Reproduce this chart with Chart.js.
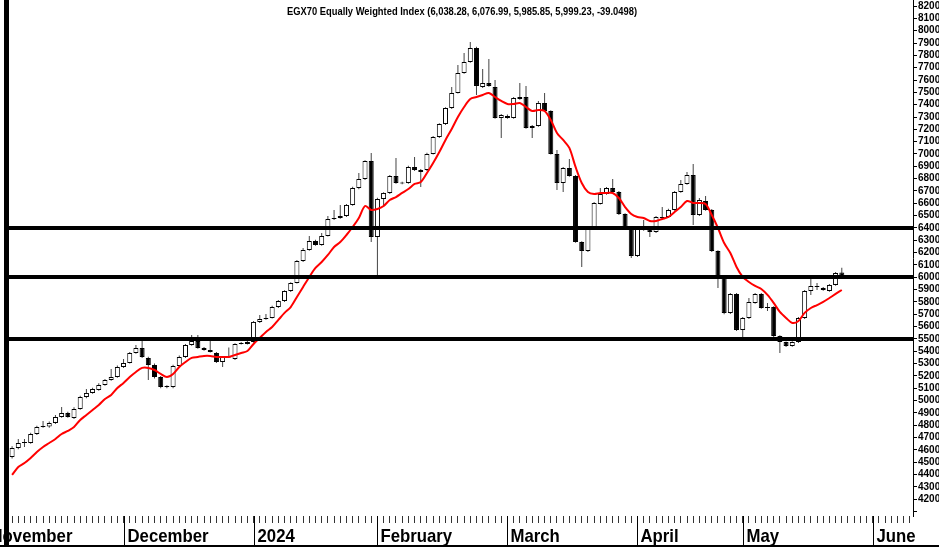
<!DOCTYPE html>
<html lang="en">
<head>
  <meta charset="UTF-8" />
  <title>EGX70 Equally Weighted Index</title>
  <script src="https://cdn.jsdelivr.net/npm/chart.js"></script>
  <style>
    html, body { margin: 0; padding: 0; background: #fff; }
    canvas { display: block; }
  </style>
</head>
<body>
  <canvas id="egx" width="939" height="547"></canvas>

  <script>
    // daily candles, Nov 2023 .. May 2024 (trading days)
    const opens = [4543,4616,4656,4656,4729,4786,4790,4819,4867,4900,4859,4932,5029,5062,5086,5127,5167,5191,5273,5305,
      5386,5427,5346,5289,5191,5118,5110,5281,5354,5451,5483,5427,5411,5386,5313,5350,5338,5459,5459,5475,
      5638,5662,5670,5759,5808,5889,5954,6132,6222,6295,6262,6335,6473,6481,6497,6587,6724,6797,6943,6327,
      6635,6684,6822,6760,6765,6895,6854,6870,7000,7138,7243,7373,7495,7657,7746,7860,7543,7576,7543,7292,
      7308,7292,7446,7462,7211,7227,7414,7349,7000,6765,6887,6822,6286,6213,6392,6595,6676,6724,6692,6513,
      6408,6173,6400,6400,6367,6481,6489,6546,6692,6757,6830,6505,6619,6546,6213,6011,5711,5865,5573,5670,
      5792,5865,5759,5759,5524,5475,5443,5475,5670,5889,5922,5914,5889,5938,6038.28];
    const highs = [4630,4689,4689,4740,4795,4835,4830,4883,4948,4910,4945,5040,5094,5105,5140,5175,5256,5285,5338,5395,
      5451,5491,5355,5300,5200,5125,5290,5365,5460,5532,5532,5435,5483,5395,5360,5430,5465,5475,5485,5645,
      5694,5702,5770,5815,5895,5960,6140,6238,6335,6305,6359,6497,6546,6587,6595,6735,6846,6950,7008,6645,
      6690,6830,6968,6775,6905,6976,6878,7010,7145,7250,7380,7543,7722,7819,7908,7870,7689,7770,7600,7325,
      7320,7462,7576,7552,7235,7430,7495,7355,7032,6895,6960,6830,6292,6400,6610,6724,6732,6797,6700,6520,
      6415,6415,6465,6410,6497,6570,6555,6700,6789,6854,6919,6643,6660,6553,6220,6018,5872,5872,5677,5832,
      5872,5872,5792,5765,5530,5480,5482,5677,5896,5994,5954,5922,5945,6043,6076.99];
    const lows = [4530,4605,4624,4650,4720,4780,4780,4810,4860,4860,4850,4925,5020,5055,5080,5120,5160,5185,5265,5300,
      5380,5345,5167,5180,5100,5100,5100,5275,5345,5445,5420,5405,5390,5305,5273,5345,5330,5455,5455,5470,
      5630,5655,5665,5750,5800,5880,5950,6125,6215,6255,6255,6330,6465,6475,6490,6580,6715,6790,6286,6011,
      6570,6675,6758,6755,6758,6862,6732,6862,6995,7130,7235,7365,7490,7650,7740,7479,7535,7545,7285,7130,
      7285,7285,7440,7205,7130,7220,7340,6995,6708,6692,6815,6280,6084,6205,6385,6590,6670,6685,6505,6400,
      6157,6165,6378,6327,6360,6475,6480,6540,6685,6750,6424,6498,6540,6205,5913,5700,5703,5565,5516,5662,
      5785,5745,5727,5515,5386,5435,5436,5468,5662,5857,5897,5890,5882,5932,5985.85];
    const closes = [4616,4656,4664,4729,4786,4794,4819,4867,4900,4867,4932,5029,5062,5094,5127,5167,5191,5273,5305,5386,
      5427,5354,5289,5191,5110,5110,5281,5354,5451,5483,5427,5411,5394,5313,5354,5362,5459,5467,5475,5638,
      5662,5670,5759,5808,5889,5954,6132,6222,6295,6262,6335,6473,6481,6497,6587,6724,6797,6943,6327,6635,
      6684,6822,6765,6768,6895,6870,6870,7000,7138,7243,7373,7495,7657,7746,7860,7552,7576,7552,7292,7316,
      7292,7454,7462,7211,7227,7414,7349,7000,6765,6887,6822,6286,6213,6392,6603,6676,6724,6692,6513,6408,
      6173,6408,6384,6367,6489,6489,6546,6692,6757,6830,6505,6627,6546,6213,6011,5711,5865,5573,5670,5800,
      5865,5751,5751,5524,5475,5443,5475,5670,5889,5930,5930,5897,5938,6035,5999.23];
    // red moving average
    const ma = [4397,4462,4494,4535,4583,4624,4656,4689,4729,4754,4786,4843,4883,4924,4964,5013,5046,5102,5143,5191,
      5232,5265,5265,5248,5216,5191,5216,5273,5313,5346,5354,5362,5362,5354,5354,5354,5370,5386,5402,5459,
      5508,5557,5597,5654,5711,5759,5840,5922,6003,6076,6124,6181,6246,6286,6343,6408,6481,6578,6546,6554,
      6578,6627,6651,6684,6716,6757,6773,6846,6927,7016,7114,7203,7300,7381,7446,7462,7479,7495,7462,7430,
      7406,7406,7414,7381,7349,7357,7349,7276,7170,7114,7049,6895,6765,6692,6676,6684,6684,6684,6643,6570,
      6513,6489,6481,6457,6457,6473,6489,6530,6570,6619,6603,6603,6595,6505,6400,6278,6197,6084,6003,5962,
      5930,5905,5857,5792,5719,5670,5630,5646,5711,5751,5775,5800,5832,5865,5897];

    const levels = [6400, 6000, 5500];
    const slotCount = 146;
    const monthNames = ['November', 'December', '2024', 'February', 'March', 'April', 'May', 'June'];
    const monthStarts = [-4, 18, 39, 59, 80, 101, 118, 139];

    const title = 'EGX70 Equally Weighted Index (6,038.28, 6,076.99, 5,985.85, 5,999.23, -39.0498)';
    const sans = '"Liberation Sans", Arial, sans-serif';

    const slots = Array.from({ length: slotCount }, (_, i) => i);

    // condensed text: squeeze the glyphs horizontally by factor f
    function squeezed(ctx, text, x, y, f, align) {
      ctx.save();
      ctx.translate(x, y);
      ctx.scale(f, 1);
      ctx.textAlign = align;
      ctx.fillText(text, 0, 0);
      ctx.restore();
    }

    const decor = {
      id: 'decor',
      afterDatasetsDraw(chart) {
        const { ctx, chartArea: a, scales: { y } } = chart;
        ctx.save();
        ctx.fillStyle = '#000';
        levels.forEach(v => {
          const py = Math.round(y.getPixelForValue(v));
          ctx.fillRect(a.left, py - 2, a.right - a.left, 4);
        });
        ctx.restore();
      },
      afterDraw(chart) {
        const { ctx, chartArea: a, scales: { x } } = chart;
        ctx.save();
        ctx.fillStyle = '#000';
        // month separators and labels
        ctx.strokeStyle = '#000';
        ctx.lineWidth = 1;
        ctx.font = 'bold 19px ' + sans;
        ctx.textBaseline = 'alphabetic';
        const fm = 81 / ctx.measureText('December').width;
        monthStarts.forEach((m, i) => {
          const px = Math.round(x.getPixelForValue(m)) + 0.5;
          ctx.beginPath();
          ctx.moveTo(px, a.bottom);
          ctx.lineTo(px, chart.height - 2);
          ctx.stroke();
          squeezed(ctx, monthNames[i], px + 3, 542, fm, 'left');
        });

        // frame
        ctx.fillRect(4, 0, 5, chart.height);
        ctx.fillRect(0, chart.height - 2, chart.width, 2);

        // title
        ctx.font = 'bold 11px ' + sans;
        ctx.textBaseline = 'alphabetic';
        const ft = 350 / ctx.measureText(title).width;
        squeezed(ctx, title, 462, 15, ft, 'center');
        ctx.restore();
      }
    };

    const ctx = document.getElementById('egx').getContext('2d');
    const chart = new Chart(ctx, {
      data: {
        labels: slots,
        datasets: [
          {
            type: 'line',
            label: 'MA',
            data: ma,
            borderColor: '#ff0000',
            borderWidth: 2,
            pointRadius: 0,
            tension: 0.3,
            order: 0
          },
          {
            type: 'bar',
            label: 'Body',
            data: opens.map((o, i) => [o, closes[i]]),
            backgroundColor: c => closes[c.dataIndex] < opens[c.dataIndex] ? '#000' : '#fff',
            borderColor: '#000',
            borderWidth: 1,
            borderSkipped: false,
            inflateAmount: 0,
            barThickness: 5,
            grouped: false,
            order: 1
          },
          {
            type: 'bar',
            label: 'Wick',
            data: lows.map((l, i) => [l, highs[i]]),
            backgroundColor: '#444',
            borderWidth: 0,
            inflateAmount: 0,
            barThickness: 1,
            grouped: false,
            order: 2
          }
        ]
      },
      options: {
        responsive: false,
        animation: false,
        layout: { padding: { left: 9, right: 0, top: 0, bottom: 0 } },
        plugins: {
          legend: { display: false },
          tooltip: { enabled: false },
          title: { display: false }
        },
        scales: {
          x: {
            type: 'category',
            offset: true,
            grid: { drawOnChartArea: false, drawTicks: true, tickLength: 7, offset: false, color: '#333' },
            border: { display: false },
            ticks: { autoSkip: false, maxRotation: 0, padding: 0, callback: () => '' },
            afterFit: s => { s.height = 31; s.paddingLeft = 0; s.paddingRight = 0; }
          },
          y: {
            position: 'right',
            min: 4064,
            max: 8249,
            grid: { drawOnChartArea: false, tickLength: 4, color: '#000' },
            border: { display: true, color: '#000', width: 1 },
            ticks: {
              stepSize: 100,
              includeBounds: false,
              autoSkip: false,
              padding: 1,
              color: '#000',
              font: { family: sans, size: 10, weight: 'bold' },
              callback: v => v === 4100 ? '' : String(v)
            },
            afterFit: s => { s.width = 26; s.paddingTop = 0; s.paddingBottom = 0; }
          }
        }
      },
      plugins: [decor]
    });
  </script>
</body>
</html>
